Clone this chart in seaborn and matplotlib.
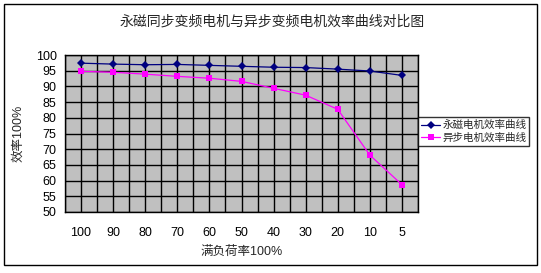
import matplotlib
matplotlib.use("Agg")
import matplotlib.pyplot as plt
import seaborn as sns
import pandas as pd
from matplotlib.patches import Rectangle

# load levels (x axis categories)
loads = ["100", "90", "80", "70", "60", "50", "40", "30", "20", "10", "5"]
pm_eff = [97.4, 97.1, 96.9, 97.0, 96.7, 96.4, 96.1, 96.0, 95.5, 94.9, 93.5]
async_eff = [94.8, 94.5, 93.9, 93.2, 92.6, 91.6, 89.4, 87.2, 82.7, 68.1, 58.7]
series_names = ["永磁电机效率曲线", "异步电机效率曲线"]
yticks = list(range(50, 101, 5))

sns.set_style("white")
plt.rcParams['font.family'] = ['Liberation Sans', 'Noto Sans CJK SC', 'DejaVu Sans']

df = pd.DataFrame({
    "pos": list(range(len(loads))) * 2,
    "eff": pm_eff + async_eff,
    "series": [series_names[0]] * len(loads) + [series_names[1]] * len(loads),
})

fig = plt.figure(figsize=(5.41, 2.73), dpi=100)
fig.patch.set_facecolor("white")
ax = fig.add_axes([65 / 541, 1 - 212 / 273, (418 - 65) / 541, (212 - 55) / 273])
ax.set_facecolor("#C0C0C0")

sns.lineplot(data=df, x="pos", y="eff", hue="series", style="series",
             palette=["#000080", "#FF00FF"], markers=["D", "s"], dashes=False,
             markersize=4, linewidth=0.9, markeredgewidth=0, ax=ax)

ax.set_xlim(-0.5, len(loads) - 0.5)
ax.set_ylim(50, 100)
ax.set_yticks(yticks)
ax.set_xticks(range(len(loads)))
ax.set_xticklabels(loads)
ax.set_xticks([i + 0.5 for i in range(-1, len(loads))], minor=True)
ax.grid(True, which="both", axis="x", color="black", linewidth=1)
ax.grid(True, which="major", axis="y", color="black", linewidth=1)
ax.set_axisbelow(True)
for s in ax.spines.values():
    s.set_color("black")
    s.set_linewidth(1)
ax.tick_params(axis="both", which="both", length=0, labelsize=9, colors="black")
ax.tick_params(axis="x", pad=11)
ax.tick_params(axis="y", pad=6)

ax.set_xlabel("满负荷率100%", fontsize=9, labelpad=5)
ax.set_ylabel("效率100%", fontsize=9, labelpad=8)

leg = ax.legend(loc="upper left", bbox_to_anchor=(418 / 541, 1 - 117 / 273),
                bbox_transform=fig.transFigure, fontsize=7.6, frameon=True,
                fancybox=False, borderpad=0.3, handlelength=1.8, handletextpad=0.2,
                labelspacing=0.25, borderaxespad=0)
leg.get_frame().set_edgecolor("black")
leg.get_frame().set_linewidth(1)

fig.text(272 / 541, 1 - 22 / 273, "永磁同步变频电机与异步变频电机效率曲线对比图",
         ha="center", va="center", fontsize=10)

fig.patches.append(Rectangle((4 / 541, 1 - 265 / 273), (537 - 4) / 541, (265 - 4) / 273,
                             transform=fig.transFigure, fill=False,
                             edgecolor="black", linewidth=1))

fig.savefig("out.png", dpi=100)
